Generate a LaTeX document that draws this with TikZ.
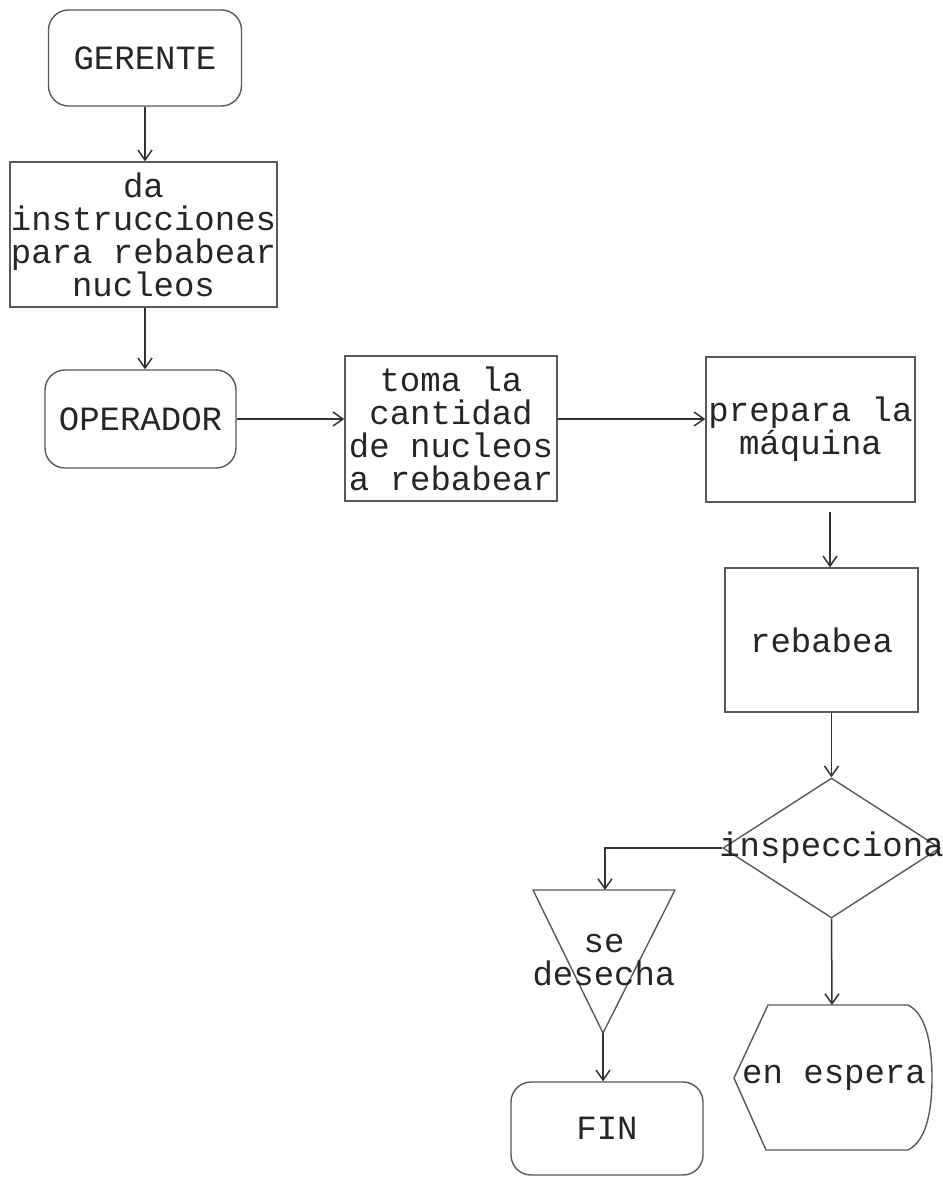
\documentclass[tikz,border=0pt]{standalone}
\usepackage{fontspec}
\setmonofont{Liberation Mono}
\usetikzlibrary{arrows.meta,shapes.geometric}
\tikzset{
  every node/.style={font=\ttfamily\fontsize{17}{16.5}\selectfont, text=black!85},
  boxline/.style={draw=black!65, line width=0.7pt},
  procbox/.style={boxline, rectangle, inner sep=0pt, align=center},
  termbox/.style={boxline, rectangle, rounded corners=10pt, inner sep=0pt, align=center},
  decbox/.style={boxline, diamond, inner sep=0pt},
  conn/.style={draw=black!80, line width=0.75pt, -{Straight Barb[length=5pt,width=7pt]}},
}
\begin{document}
\begin{tikzpicture}[x=0.5pt,y=-0.5pt]
\useasboundingbox (0,0) rectangle (942,1177);
\fill[white] (0,0) rectangle (942,1177);

\node[termbox, minimum width=96.5pt, minimum height=48pt] (ger) at (145,58) {GERENTE};
\node[procbox, minimum width=133.5pt, minimum height=72.5pt] (inst) at (143.5,234.5) {da\\instrucciones\\para rebabear\\nucleos};
\node[termbox, minimum width=95.5pt, minimum height=49pt] (oper) at (140.5,419) {OPERADOR};
\node[procbox, minimum width=106pt, minimum height=72.5pt] (toma) at (451,428.5) {toma la\\cantidad\\de nucleos\\a rebabear};
\node[procbox, minimum width=104.5pt, minimum height=72.5pt] (prep) at (810.5,429.5) {prepara la\\máquina};
\node[procbox, minimum width=96.5pt, minimum height=72pt] (reb) at (821.5,640) {rebabea};
\node[decbox, minimum width=108.5pt, minimum height=70pt] (insp) at (831.5,848) {\makebox[0pt]{inspecciona}};

% triangle (se desecha)
\coordinate (tl) at (533,890);
\coordinate (tr) at (675,890);
\coordinate (tapex) at (603,1033);
\coordinate (ttop) at (605,890);
\draw[boxline, line join=round] (tl) -- (tr) -- (tapex) -- cycle;
\node[align=center] (des) at (604,960) {se\\desecha};

\node[termbox, minimum width=96pt, minimum height=46.5pt] (fin) at (607,1128.5) {FIN};

% en espera (display symbol)
\coordinate (e1) at (768,1005);
\coordinate (e2) at (908,1005);
\coordinate (e3) at (932,1078);
\coordinate (e4) at (908,1150);
\coordinate (e5) at (766,1150);
\coordinate (e6) at (734,1078);
\coordinate (etop) at (832,1005);
\draw[boxline] (e1) -- (e2) .. controls (928,1015) and (932,1050) .. (e3)
  .. controls (932,1106) and (928,1140) .. (e4) -- (e5) -- (e6) -- cycle;
\node (esp) at (834,1078) {en espera};

% connectors
\coordinate (p5) at (830,512);
\draw[conn] (ger.south) -- (ger.south |- inst.north);
\draw[conn] (inst.south -| ger.south) -- (oper.north -| ger.south);
\draw[conn] (oper.east) -- (oper.east -| toma.west);
\draw[conn] (toma.east |- oper.east) -- (oper.east -| prep.west);
\draw[conn] (p5) -- (p5 |- reb.north);
\draw[conn] (reb.south -| insp.north) -- (insp.north);
\draw[conn] (insp.west) -| (ttop);
\draw[conn] (tapex) -- (tapex |- fin.north);
\draw[conn] (insp.south) -- (etop);
\end{tikzpicture}
\end{document}
